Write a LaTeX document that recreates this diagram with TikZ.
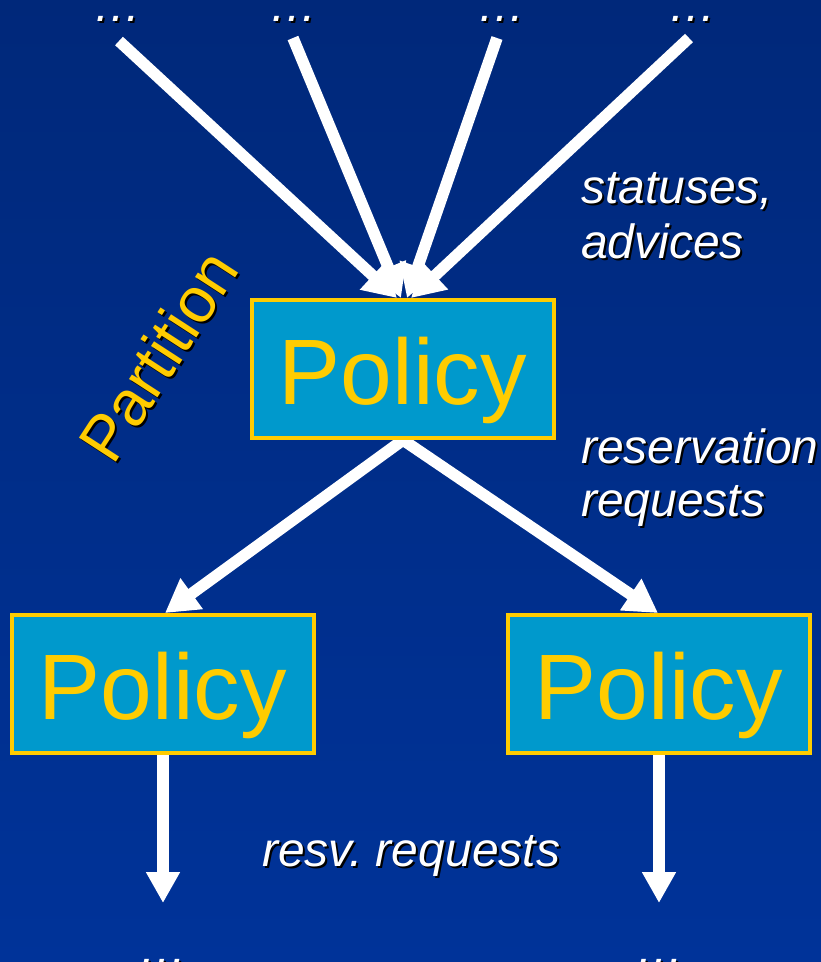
\documentclass[tikz,border=0pt]{standalone}
\usepackage{fontspec}
\setmainfont{Liberation Sans}
\usetikzlibrary{arrows.meta,calc}
\definecolor{bgtop}{RGB}{0,40,122}
\definecolor{bgbot}{RGB}{0,51,153}
\definecolor{boxfill}{RGB}{0,153,204}
\definecolor{gold}{RGB}{255,204,0}
\pgfdeclarelayer{bg}
\pgfsetlayers{bg,main}
\frenchspacing
\begin{document}
\begin{tikzpicture}[x=1pt,y=-1pt,
  policybox/.style={draw=gold, line width=4pt, fill=boxfill, minimum width=302pt,
    minimum height=138pt, inner sep=0pt, text=gold,
    font=\fontsize{93}{100}\selectfont, text height=70pt, text depth=0pt},
  arr/.style={draw=white, line width=11.5pt, -{Triangle[length=33pt,width=36pt]}},
  downarr/.style={draw=white, line width=11.5pt, -{Triangle[length=31pt,width=32pt]}},
  lbl/.style={text=white, font=\fontsize{48}{54}\selectfont\itshape, inner sep=0pt, anchor=base west},
  shd/.style={lbl, text=black},
  dots/.style={text=white, font=\fontsize{48}{54}\selectfont\itshape, inner sep=0pt, anchor=base},
  dotsshd/.style={dots, text=black},
  part/.style={text=gold, font=\fontsize{64}{70}\selectfont, inner sep=0pt, rotate=57},
  partshd/.style={part, text=black}
]
\begin{pgfonlayer}{bg}
\shade[top color=bgtop, bottom color=bgbot] (0,0) rectangle (821,962);
\end{pgfonlayer}
\useasboundingbox (0,0) rectangle (821,962);

% boxes
\node[policybox] (top) at (403,369) {Policy};
\node[policybox] (left) at (163,684) {Policy};
\node[policybox] (right) at (659,684) {Policy};

% free ends
\coordinate (s1) at (119,41);
\coordinate (s2) at (293,38);
\coordinate (s3) at (497,38);
\coordinate (s4) at (689,38);
\coordinate (e1) at (163,903);
\coordinate (e2) at (659,903);

\begin{pgfonlayer}{bg}
\draw[arr] (s1) -- ([xshift=-6pt]top.north);
\draw[arr] (s2) -- ([xshift=-2pt]top.north);
\draw[arr] (s3) -- ([xshift=4pt]top.north);
\draw[arr] (s4) -- ([xshift=8pt]top.north);
\draw[arr] (top.south) -- ([xshift=2pt]left.north);
\draw[arr] (top.south) -- ([xshift=-1pt]right.north);
\draw[downarr] (left.south) -- (e1);
\draw[downarr] (right.south) -- (e2);
\end{pgfonlayer}

% dots
\node[dotsshd] (d1s) at (119,23) {…};
\node[dots] (d1) at (117,21) {…};
\node[dotsshd] (d2s) at (295,23) {…};
\node[dots] (d2) at (293,21) {…};
\node[dotsshd] (d3s) at (503,23) {…};
\node[dots] (d3) at (501,21) {…};
\node[dotsshd] (d4s) at (694,23) {…};
\node[dots] (d4) at (692,21) {…};
\node[dotsshd] (d5s) at (165,966) {…};
\node[dots] (d5) at (163,964) {…};
\node[dotsshd] (d6s) at (662,966) {…};
\node[dots] (d6) at (660,964) {…};

% labels
\node[shd] (l1s) at (583,205) {statuses,};
\node[lbl] (l1) at (581,203) {statuses,};
\node[shd] (l2s) at (583,260) {advices};
\node[lbl] (l2) at (581,258) {advices};
\node[shd] (l3s) at (583,465) {reservation};
\node[lbl] (l3) at (581,463) {reservation};
\node[shd] (l4s) at (583,518) {requests};
\node[lbl] (l4) at (581,516) {requests};
\node[shd] (l5s) at (264,868) {resv. requests};
\node[lbl] (l5) at (262,866) {resv. requests};

% Partition
\node[partshd] (ps) at (160,358) {Partition};
\node[part] (p) at (158,356) {Partition};
\end{tikzpicture}
\end{document}
